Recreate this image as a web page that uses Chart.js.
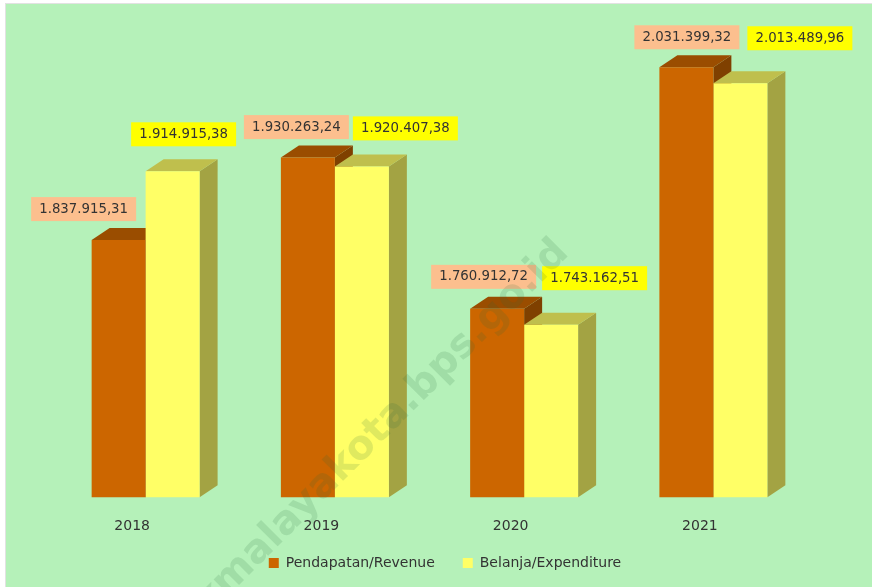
<!DOCTYPE html>
<html><head><meta charset="utf-8">
<script src="https://cdn.jsdelivr.net/npm/chart.js@4"></script>
<style>
html,body{margin:0;padding:0;background:#fff;overflow:hidden}
#bg{position:absolute;left:5px;top:3px;width:867px;height:584px;background:#B5F1B9;border-left:1px solid #e2e2e2;border-top:1px solid #e2e2e2;box-sizing:border-box}
#wrap{position:absolute;left:0;top:0;width:872px;height:587px}
</style></head><body>
<div id="bg"></div>
<div id="wrap"><canvas id="c" width="872" height="587"></canvas></div>
<script>
const categories = ['2018','2019','2020','2021'];
const revenue = [1837915.31,1930263.24,1760912.72,2031399.32];
const expenditure = [1914915.38,1920407.38,1743162.51,2013489.96];
const seriesNames = ['Pendapatan/Revenue','Belanja/Expenditure'];
const watermark = 'tasikmalayakota.bps.go.id';

const labelShift = [
  [[-35,-31],[-11.5,-30.5],[-13.5,-32],[0.5,-30]],
  [[11,-37],[43.5,-38],[43.5,-46.5],[59.5,-45]]
];
const faces = [
  {top:'#9A4D00',side:'#7F4000',label:'#FCBF8E'},
  {top:'#BFBF4D',side:'#A3A343',label:'#FFFF00'}
];
const DX=18, DY=12;
const FONT='"DejaVu Sans", Verdana, sans-serif';

function fmt(v){
  const [i,d]=v.toFixed(2).split('.');
  return i.replace(/\B(?=(\d{3})+$)/g,'.')+','+d;
}
function poly(ctx,pts,fill){
  ctx.fillStyle=fill;ctx.beginPath();
  pts.forEach((p,i)=>i?ctx.lineTo(p[0],p[1]):ctx.moveTo(p[0],p[1]));
  ctx.closePath();ctx.fill();
}
const depth={
  id:'depth',
  afterLayout(chart){
    const l=chart.legend;
    l.left+=15.5;l.right+=15.5;
    l.top=563-28-7;l.bottom=587;
  },
  beforeDatasetsDraw(chart){
    const ctx=chart.ctx,B=chart.chartArea.bottom;
    chart.data.datasets.forEach((ds,i)=>{
      const f=faces[i];
      chart.getDatasetMeta(i).data.forEach(b=>{
        const L=b.x-b.width/2,R=b.x+b.width/2,T=b.y;
        poly(ctx,[[R,T],[R+DX,T-DY],[R+DX,B-DY],[R,B]],f.side);
        poly(ctx,[[L,T],[L+DX,T-DY],[R+DX,T-DY],[R,T]],f.top);
      });
    });
  },
  afterDatasetsDraw(chart){
    const ctx=chart.ctx;
    ctx.save();
    ctx.font='13.3px '+FONT;ctx.textAlign='center';ctx.textBaseline='middle';
    chart.data.datasets.forEach((ds,i)=>{
      chart.getDatasetMeta(i).data.forEach((b,j)=>{
        const cx=b.x+labelShift[i][j][0],cy=b.y+labelShift[i][j][1];
        ctx.fillStyle=faces[i].label;
        ctx.fillRect(cx-52.5,cy-12,105,24);
        ctx.fillStyle='#333';
        ctx.fillText(fmt(ds.data[j]),cx,cy);
      });
    });
    ctx.restore();
  },
  afterDraw(chart){
    const ctx=chart.ctx;
    ctx.save();
    ctx.translate(570,254);
    ctx.rotate(-45*Math.PI/180);
    ctx.font='bold 40px '+FONT;
    ctx.textAlign='right';ctx.textBaseline='alphabetic';
    ctx.fillStyle='rgba(40,110,60,0.15)';
    ctx.fillText(watermark,0,0);
    ctx.restore();
  }
};
new Chart(document.getElementById('c'),{
  type:'bar',
  data:{labels:categories,datasets:[
    {label:seriesNames[0],data:revenue,backgroundColor:'#CC6600',categoryPercentage:0.5705,barPercentage:1},
    {label:seriesNames[1],data:expenditure,backgroundColor:'#FFFF66',categoryPercentage:0.5705,barPercentage:1}
  ]},
  options:{
    responsive:false,animation:false,
    layout:{padding:{left:51,right:64,top:6,bottom:-13}},
    scales:{
      x:{grid:{display:false},border:{display:false},
         ticks:{color:'#333',font:{family:FONT,size:14},padding:13,labelOffset:-13.5,maxRotation:0}},
      y:{display:false,min:1550000,max:2100000}
    },
    plugins:{
      legend:{position:'bottom',labels:{boxWidth:10,boxHeight:10,padding:28,color:'#333',font:{family:FONT,size:14}}},
      tooltip:{enabled:false}
    }
  },
  plugins:[depth]
});
</script>
</body></html>
